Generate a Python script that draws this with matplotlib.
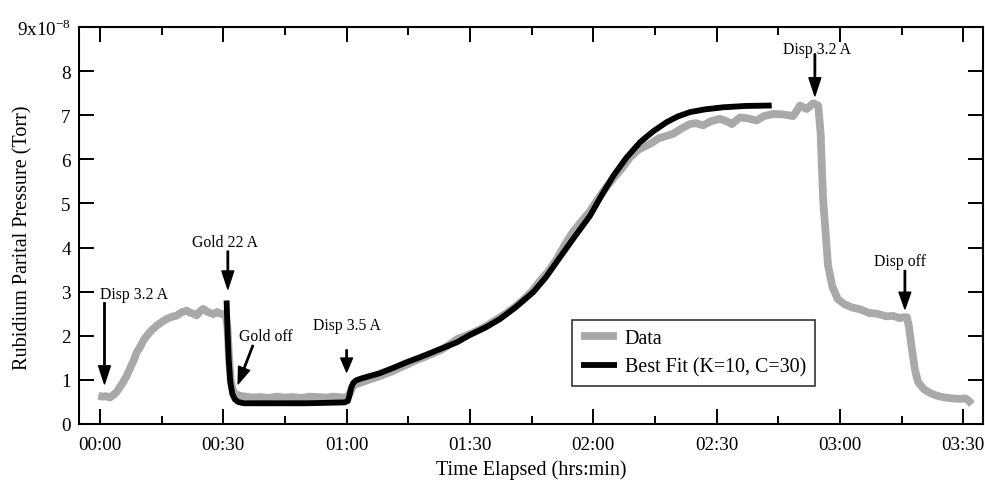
import matplotlib
matplotlib.use("Agg")
import matplotlib.pyplot as plt
from matplotlib.ticker import MultipleLocator, FuncFormatter

plt.rcParams['font.family'] = ['Liberation Serif', 'DejaVu Serif']
plt.rcParams['mathtext.fontset'] = 'custom'
plt.rcParams['mathtext.rm'] = 'Liberation Serif'

# Measured rubidium partial pressure (units of 1e-8 Torr) vs elapsed minutes
data_t = [-0.4, 0.5, 1.5, 2.4, 3.3, 4.0, 4.5, 5.5, 6.5, 7.5, 8.3, 8.9, 9.8, 10.6,
          11.4, 12.5, 13.8, 15.0, 16.2, 17.5, 18.7, 19.8, 21.1, 22.0, 22.8, 23.5,
          24.3, 25.1, 26.0, 26.8, 27.6, 28.5, 29.3, 30.0, 30.6, 31.0, 31.4, 31.8,
          32.4, 33.0, 34.0, 35.5, 37, 39, 41, 43, 45, 47, 49, 51, 53, 55, 57, 59,
          60.2, 60.8, 61.4, 62.2, 63.5, 65, 67, 69, 71, 73, 75, 77, 79, 81, 83, 85,
          87, 89, 91, 93, 95, 97, 99, 101, 103, 105, 107, 109, 111, 113, 115, 117,
          119, 121, 123, 125, 127, 129, 131, 133.8, 136, 139.5, 141.5, 143.5, 145,
          146.7, 148.5, 150.8, 152.5, 153.7, 155.7, 157.5, 159.7, 161.5, 163.8, 166,
          168.6, 169.5, 170.3, 171.9, 173.5, 174.7, 175.3, 175.9, 177.1, 178.2,
          179.5, 181, 183, 184.9, 187, 189, 191.4, 193, 194.5, 195.5, 196.3, 196.8,
          197.5, 198.2, 199.0, 200.5, 202, 203.6, 205.5, 207.5, 209.2, 210.5,
          211.3, 212.1]
data_p = [0.64, 0.62, 0.63, 0.60, 0.66, 0.72, 0.79, 0.93, 1.09, 1.30, 1.46, 1.62,
          1.75, 1.90, 2.00, 2.12, 2.23, 2.31, 2.38, 2.43, 2.46, 2.53, 2.57, 2.52,
          2.50, 2.46, 2.55, 2.61, 2.55, 2.52, 2.49, 2.54, 2.50, 2.49, 2.48, 2.20,
          1.50, 1.00, 0.72, 0.68, 0.64, 0.62, 0.60, 0.61, 0.59, 0.62, 0.60, 0.61,
          0.59, 0.62, 0.61, 0.60, 0.62, 0.60, 0.61, 0.70, 0.84, 0.90, 0.94, 0.99,
          1.05, 1.12, 1.19, 1.28, 1.36, 1.45, 1.52, 1.60, 1.68, 1.80, 1.93, 2.00,
          2.08, 2.17, 2.28, 2.40, 2.52, 2.66, 2.82, 3.00, 3.24, 3.45, 3.72, 4.05,
          4.35, 4.58, 4.80, 5.08, 5.35, 5.58, 5.80, 6.05, 6.22, 6.35, 6.48, 6.58,
          6.70, 6.80, 6.82, 6.77, 6.86, 6.92, 6.86, 6.80, 6.95, 6.93, 6.88, 6.98,
          7.03, 7.02, 6.98, 7.10, 7.22, 7.14, 7.27, 7.22, 6.60, 5.10, 3.60, 3.10,
          2.83, 2.72, 2.64, 2.60, 2.52, 2.50, 2.44, 2.45, 2.40, 2.42, 2.42, 2.20,
          1.70, 1.25, 0.95, 0.78, 0.70, 0.64, 0.60, 0.58, 0.57, 0.58, 0.53, 0.45]

# Model fit (kappa=10, C=30)
fit_t = [30.8, 31.0, 31.3, 31.7, 32.2, 32.8, 33.6, 35, 40, 45, 50, 55, 59.5, 60.3,
         60.7, 61.1, 61.6, 62.3, 63.5, 65, 68, 71, 74.6, 78, 82, 86.8, 90, 94,
         97.3, 101, 105.4, 108.5, 111.9, 115.5, 119.2, 122, 124.9, 128, 131.4,
         134.5, 137.8, 140.5, 143.5, 147, 151.6, 157, 163.4]
fit_p = [2.80, 2.20, 1.50, 0.95, 0.68, 0.56, 0.50, 0.47, 0.47, 0.47, 0.47, 0.48,
         0.49, 0.52, 0.65, 0.82, 0.93, 0.99, 1.03, 1.07, 1.15, 1.26, 1.40, 1.52,
         1.67, 1.85, 2.02, 2.20, 2.38, 2.64, 2.99, 3.33, 3.78, 4.25, 4.72, 5.18,
         5.63, 6.03, 6.39, 6.63, 6.84, 6.97, 7.07, 7.13, 7.18, 7.21, 7.22]

# Event markers: label, text position, arrow start, arrow tip, head length (pt)
events = [
    ("Disp 3.2 A", (8.3, 2.95), (1.1, 2.75), (1.1, 0.91), 13),
    ("Gold 22 A", (30.4, 4.13), (31.1, 3.92), (31.1, 3.06), 13),
    ("Gold off", (40.3, 2.0), (37.2, 1.78), (33.6, 0.91), 12),
    ("Disp 3.5 A", (60.1, 2.25), (60.0, 1.68), (60.0, 1.18), 10),
    ("Disp 3.2 A", (174.3, 8.5), (173.9, 8.39), (173.9, 7.44), 13),
    ("Disp off", (194.6, 3.70), (195.8, 3.48), (195.8, 2.61), 12),
]

yticks = list(range(10))
xtick_step = 30

fig = plt.figure(figsize=(9.85, 4.81), dpi=100)
ax = fig.add_axes([79 / 985, 1 - 425 / 481, 904 / 985, 397 / 481])

ax.plot(data_t, data_p, color='#a9a9a9', lw=5.6, solid_capstyle='butt',
        solid_joinstyle='round', label='Data', zorder=2)
ax.plot(fit_t, fit_p, color='black', lw=4.2, solid_capstyle='butt',
        solid_joinstyle='round', label='Best Fit (\u039a=10, C=30)', zorder=3)

for label, txt, start, tip, hl in events:
    ax.annotate('', xy=tip, xytext=start,
                arrowprops=dict(facecolor='black', edgecolor='black', width=1.0,
                                headwidth=8.5, headlength=hl, shrink=0.0),
                zorder=4)
    ax.text(txt[0], txt[1], label, ha='center', va='center', fontsize=11.3,
            zorder=5)

ax.set_xlim(-5.1, 214.8)
ax.set_ylim(0, 9)

ax.xaxis.set_major_locator(MultipleLocator(xtick_step))
ax.xaxis.set_minor_locator(MultipleLocator(xtick_step / 2))
ax.xaxis.set_major_formatter(
    FuncFormatter(lambda v, p: f"{int(v) // 60:02d}:{int(v) % 60:02d}"))
ax.set_yticks(yticks)
ax.set_yticklabels([str(v) for v in yticks[:-1]] +
                   [r'9x10$^{\mathregular{-8}}$'])

ax.tick_params(which='both', direction='in', top=True, right=True,
               width=1.4, labelsize=13.8)
ax.tick_params(which='major', length=11)
ax.tick_params(which='minor', length=6)
ax.tick_params(axis='x', which='major', pad=9)
ax.tick_params(axis='y', which='major', pad=6)
for s in ax.spines.values():
    s.set_linewidth(1.5)

ax.set_xlabel('Time Elapsed (hrs:min)', fontsize=14.5, labelpad=4)
ax.set_ylabel('Rubidium Parital Pressure (Torr)', fontsize=14.5)
ax.yaxis.set_label_coords(-0.052, 0.472)

leg = ax.legend(loc='upper left', bbox_to_anchor=(0.545, 0.2627), fontsize=14.4,
                frameon=True, fancybox=False, edgecolor='black',
                handlelength=1.8, handletextpad=0.4, borderpad=0.45,
                labelspacing=0.5, borderaxespad=0)
leg.get_frame().set_linewidth(1.2)

fig.savefig('out.png', dpi=100)
